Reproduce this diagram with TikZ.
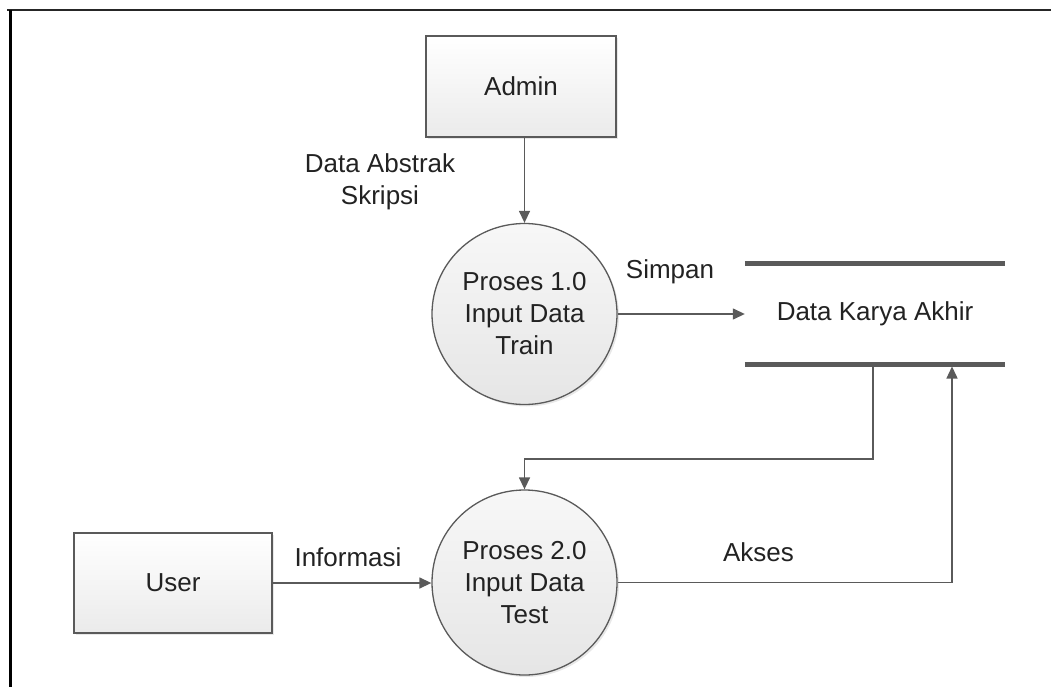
\documentclass[tikz,border=0pt]{standalone}
\usepackage{fontspec}
\setmainfont{Liberation Sans}
\usetikzlibrary{arrows.meta,shapes.geometric,shadows}

\definecolor{linegray}{HTML}{5A5A5A}
\definecolor{textgray}{HTML}{222222}

\tikzset{
  entity/.style={draw=linegray, line width=1.3pt, rectangle,
    top color=white, bottom color=black!8,
    drop shadow={shadow xshift=2pt, shadow yshift=-2pt, opacity=0.18},
    text=textgray, font=\fontsize{26}{32}\selectfont, inner sep=0pt},
  process/.style={draw=linegray, line width=1.3pt, ellipse,
    top color=black!3, bottom color=black!10,
    drop shadow={shadow xshift=2pt, shadow yshift=-2pt, opacity=0.18},
    text=textgray, font=\fontsize{26}{32}\selectfont, align=center, inner sep=0pt},
  storetext/.style={text=textgray, font=\fontsize{26}{32}\selectfont, inner sep=0pt},
  storeline/.style={draw=linegray, line width=5pt},
  flow/.style={draw=linegray, line width=1.4pt,
    -{Triangle[length=12pt, width=11pt]}},
  lbl/.style={text=textgray, font=\fontsize{26}{32}\selectfont, align=center, inner sep=0pt},
  framebar/.style={draw=black!85, line width=2.6pt}
}

\begin{document}
\begin{tikzpicture}[x=1pt, y=-1pt]
  \useasboundingbox (0,0) rectangle (1051,687);

  % page frame
  \coordinate (frameTL) at (10.5,10);
  \coordinate (frameTR) at (1051,10);
  \coordinate (frameBL) at (10.5,687);
  \coordinate (frameTLx) at (7,10);
  \draw[framebar] (frameTLx) -- (frameTR);
  \draw[framebar, draw=black, line width=3pt] (frameTL) -- (frameBL);

  % external entities
  \node[entity, minimum width=190pt, minimum height=101pt] (admin) at (521,86.5) {Admin};
  \node[entity, minimum width=198pt, minimum height=100pt] (user) at (173,583) {User};

  % processes
  \node[process, minimum width=185pt, minimum height=181pt] (p1) at (524.5,314)
    {Proses 1.0\\Input Data\\Train};
  \node[process, minimum width=185pt, minimum height=185pt] (p2) at (524.5,582.5)
    {Proses 2.0\\Input Data\\Test};

  % data store
  \node[storetext, minimum width=260pt, minimum height=100pt] (store) at (875,314)
    {Data Karya Akhir};
  \draw[storeline] (store.north west) -- (store.north east);
  \draw[storeline] (store.south west) -- (store.south east);
  \coordinate (sOut) at (873,366.5);
  \coordinate (sIn) at (952,366.5);
  \coordinate (bend) at (873,459);

  % data flows
  \draw[flow] (p1 |- admin.south) -- (p1.north);
  \draw[flow] (p1.east) -- (p1.east -| store.west);
  \draw[flow] (user.east) -- (user.east -| p2.west);
  \draw[flow] (sOut) -- (bend) -| (p2.north);
  \draw[flow] (p2.east) -| (sIn);

  % flow labels
  \node[lbl] (lblAbstrak) at (380,182) {Data Abstrak\\Skripsi};
  \node[lbl] (lblSimpan) at (670,272) {Simpan};
  \node[lbl] (lblInfo) at (348,557) {Informasi};
  \node[lbl] (lblAkses) at (758.5,552) {Akses};
\end{tikzpicture}
\end{document}
